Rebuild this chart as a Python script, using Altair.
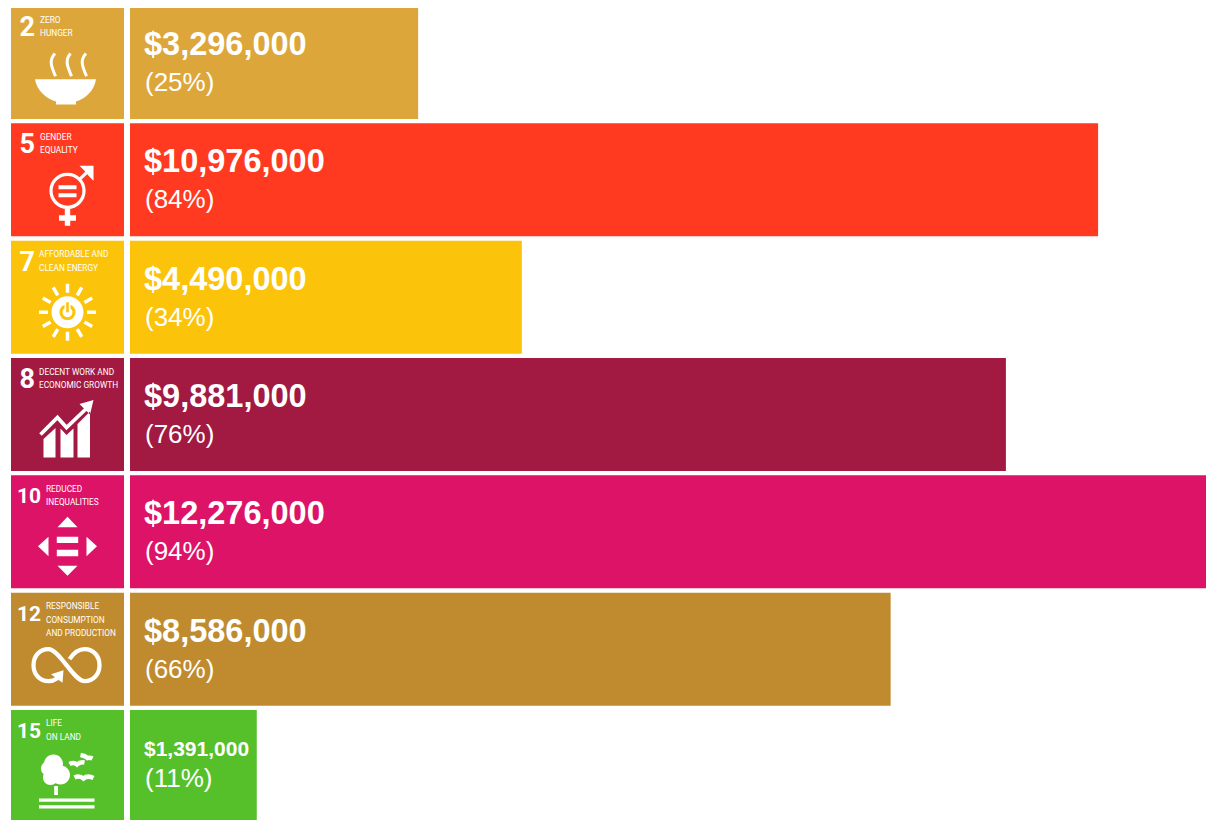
import altair as alt
import pandas as pd

goals = [2, 5, 7, 8, 10, 12, 15]
names = ["ZERO\nHUNGER", "GENDER\nEQUALITY", "AFFORDABLE AND\nCLEAN ENERGY",
         "DECENT WORK AND\nECONOMIC GROWTH", "REDUCED\nINEQUALITIES",
         "RESPONSIBLE\nCONSUMPTION\nAND PRODUCTION", "LIFE\nON LAND"]
amounts = [3296000, 10976000, 4490000, 9881000, 12276000, 8586000, 1391000]
shares = [25, 84, 34, 76, 94, 66, 11]
colors = ["#DDA63A", "#FF3A21", "#FCC30B", "#A21942", "#DD1367", "#BF8B2E", "#56C02B"]
line_widths = [3, 4.5, 2.8, 4, 0, 5, 1.2]

icon_fill = [
    "M-32.5 16.7L28.5 16.7C27 28 18 36 8.5 39L8.5 42L-11.5 42L-11.5 39C-21 36 -31 28 -32.5 16.7Z",
    "M-9 5.5L9 5.5L9 9.5L-9 9.5ZM-9 13.5L9 13.5L9 17.5L-9 17.5ZM-2.7 29L2.7 29L2.7 35.5L8.5 35.5L8.5 41L2.7 41L2.7 46L-2.7 46L-2.7 41L-8.5 41L-8.5 35.5L-2.7 35.5ZM12 -14L26 -14L26 1L21.5 -3.5L17 -9Z",
    "M16 15A16 16 0 1 1 -16 15A16 16 0 1 1 16 15ZM-3 7.58A8 8 0 1 0 3 7.58L3 11A5 5 0 1 1 -3 11ZM-1.3 5L-1.3 15L1.3 15L1.3 5Z",
    "M-24 24.5L-12 13.5L-12 43L-24 43ZM-7 14L-1 20.5L6 14L6 43L-7 43ZM10 9.5L22.5 -3L22.5 43L10 43ZM26 -14.5L12 -10.5L22.5 0Z",
    "M0 -15L10 -4.5L-10 -4.5ZM0 44L-10 34L10 34ZM-29.5 14.5L-19 5L-19 24.5ZM29.5 14.5L19 24.5L19 5ZM-10.7 4.8L10.7 4.8L10.7 11.2L-10.7 11.2ZM-10.7 17.8L10.7 17.8L10.7 24.5L-10.7 24.5Z",
    "M-4 21L-5 33.5L-16.5 25Z",
    "M-23.5 -2.5A9.5 9.5 0 1 1 -4.5 -2.5A9.5 9.5 0 1 1 -23.5 -2.5ZM-26.5 2A7.5 7.5 0 1 1 -11.5 2A7.5 7.5 0 1 1 -26.5 2ZM-16.5 8.5A9.5 9.5 0 1 1 2.5 8.5A9.5 9.5 0 1 1 -16.5 8.5ZM-24.5 11A7.5 7.5 0 1 1 -9.5 11A7.5 7.5 0 1 1 -24.5 11ZM-13.3 19.5L-9.5 19.5L-9.5 28.5L-13.3 28.5ZM-28.5 32L27 32L27 35.3L-28.5 35.3ZM-28.5 38.8L27 38.8L27 42L-28.5 42Z",
]
icon_line = [
    "M-12.5 -9C-19 -2 -16 4 -12 13.7M3 -9C-3 -2 0 4 4 13.7M18.5 -9C12 -2 15 4 19 13.7",
    "M16.5 11A16.5 16.5 0 1 1 -16.5 11A16.5 16.5 0 1 1 16.5 11M12 -0.5L22 -10",
    "M0 -13.5L0 -4.5M0 34.5L0 43.5M-28.5 15L-19.5 15M19.5 15L28.5 15M9.75 -1.9L14.25 -9.7M-9.75 -1.9L-14.25 -9.7M9.75 31.9L14.25 39.7M-9.75 31.9L-14.25 39.7M16.9 5.25L24.7 0.75M-16.9 5.25L-24.7 0.75M16.9 24.75L24.7 29.25M-16.9 24.75L-24.7 29.25",
    "M-27 20L-10 3L-1 13L21 -8",
    "M0 4L0 4",
    "M-10 29C-13 31 -16 32 -19 32C-28 32 -34 25 -34 16C-34 7 -28 0 -19 0C-8 0 6 32 17 32C26 32 32 25 32 16C32 7 26 0 17 0C11 0 6 4 2 10",
    "M2 -2.5C5 -4 7 -4 9.5 -2C11.5 -4 14 -4.5 17 -4M13 -11.5C16 -11 18 -10.5 20 -8.5C21.5 -9 23 -9 25 -8M7 11C10 9.5 13 9.5 16 12C19 9.5 22 9.5 26 11.5",
]

df = pd.DataFrame({"goal": goals, "name": names, "amount": amounts, "share": shares,
                   "fillpath": icon_fill, "linepath": icon_line})

y = alt.Y("goal:O", axis=None,
          scale=alt.Scale(domain=goals, range=[-2, 815], paddingInner=0.0369, paddingOuter=0))
color = alt.Color("goal:O", legend=None, scale=alt.Scale(domain=goals, range=colors))
x = alt.X("share:Q", axis=None, scale=alt.Scale(domain=[0, 100], range=[122, 1274.5]))

base = alt.Chart(df)
WHITE = "#ffffff"
BODY = "Liberation Sans"
NARROW = "Roboto"

tiles = base.mark_rect().encode(x=alt.value(3), x2=alt.value(116), y=y, color=color)
bars = base.mark_bar().encode(x=x, y=y, color=color)


def in_goals(group):
    return alt.FieldOneOfPredicate(field="goal", oneOf=group)


def tile_text(group, num_x, label_x, num_size):
    sub = base.transform_filter(in_goals(group))
    return [
        sub.mark_text(align="left", baseline="middle", font=NARROW, fontWeight="bold",
                      fontSize=num_size, color=WHITE, dy=-34.5)
           .encode(x=alt.value(num_x), y=y, text="goal:N"),
        sub.mark_text(align="left", baseline="top", font=NARROW, fontSize=8.3, color=WHITE,
                      lineBreak="\n", lineHeight=13.4, dy=-47)
           .encode(x=alt.value(label_x), y=y, text="name:N"),
    ]


tile_layers = (tile_text([2, 5], 11.5, 32, 27) + tile_text([7, 8], 11.5, 31, 27)
               + tile_text([10, 12, 15], 9, 38, 21))

big = base.transform_filter(alt.FieldOneOfPredicate(field="goal", oneOf=goals[:-1]))
small = base.transform_filter(alt.datum.goal == goals[-1])
pct = "'(' + datum.share + '%)'"

value_big = big.mark_text(align="left", baseline="middle", font=BODY, fontWeight="bold",
                          fontSize=32.5, color=WHITE, dy=-17.5).encode(
    x=alt.value(136), y=y, text=alt.Text("amount:Q", format="$,.0f"))
pct_big = big.transform_calculate(lab=pct).mark_text(
    align="left", baseline="middle", font=BODY, fontSize=26, color=WHITE, dy=20.5).encode(
    x=alt.value(137), y=y, text="lab:N")
value_small = small.mark_text(align="left", baseline="middle", font=BODY, fontWeight="bold",
                              fontSize=21, color=WHITE, dy=-16.5).encode(
    x=alt.value(136), y=y, text=alt.Text("amount:Q", format="$,.0f"))
pct_small = small.transform_calculate(lab=pct).mark_text(
    align="left", baseline="middle", font=BODY, fontSize=26, color=WHITE, dy=12.5).encode(
    x=alt.value(137), y=y, text="lab:N")

fills = base.mark_point(filled=True, fill=WHITE, opacity=1, strokeWidth=0, size=4).encode(
    x=alt.value(59.5), y=y, shape=alt.Shape("fillpath:N", scale=None, legend=None))
lines = base.mark_point(filled=False, stroke=WHITE, opacity=1, size=4).encode(
    x=alt.value(59.5), y=y, shape=alt.Shape("linepath:N", scale=None, legend=None),
    strokeWidth=alt.StrokeWidth("goal:O", legend=None,
                                scale=alt.Scale(domain=goals, range=line_widths)))

chart = alt.layer(
    tiles, bars, *tile_layers, value_big, pct_big, value_small, pct_small, fills, lines
).properties(
    width=1198, height=812, padding=0, autosize=alt.AutoSizeParams(type="none"),
    background="#ffffff",
).configure_view(stroke=None)

chart.save("out.html", embed_options={"renderer": "svg", "actions": False})
